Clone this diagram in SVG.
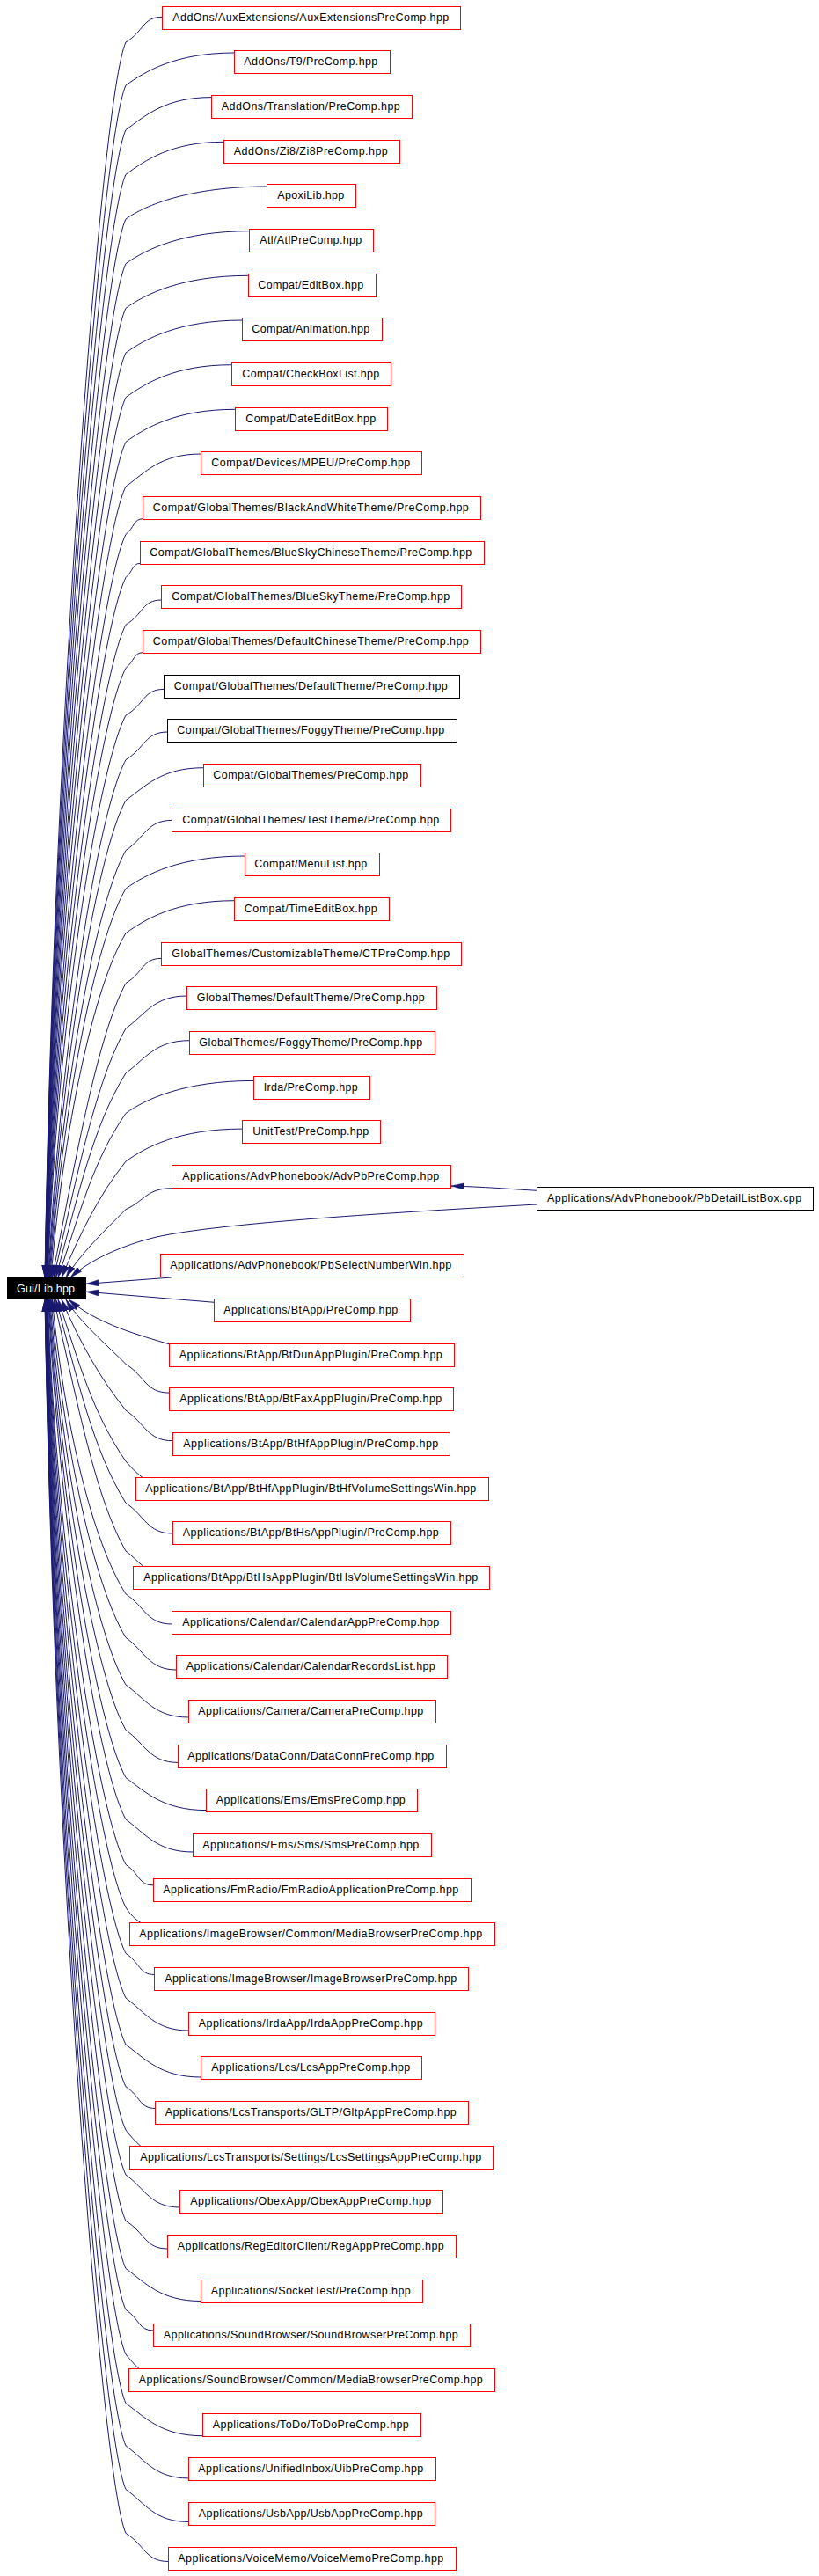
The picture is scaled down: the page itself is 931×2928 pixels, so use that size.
<svg xmlns="http://www.w3.org/2000/svg" width="931" height="2928" viewBox="0 0 931 2928">
<defs>
<style>
.n rect{fill:#fff;stroke:#f00;stroke-width:1}
.n.k rect{stroke:#000}
text{font-family:"Liberation Sans",Arial,Helvetica,sans-serif;font-size:12.5px;fill:#000;text-anchor:middle}
#edges path{fill:none;stroke:#191970;stroke-width:1;marker-end:url(#arr)}
</style>
<marker id="arr" viewBox="0 0 14 8" refX="14" refY="4" markerWidth="14" markerHeight="8" markerUnits="userSpaceOnUse" orient="auto"><path d="M0,0.5 L14,4 L0,7.5 Z" fill="#191970" stroke="#191970" stroke-width="0.5"/></marker>
</defs>
<rect width="931" height="2928" fill="#fff"/>
<g id="edges">
<path d="M184.5,19.3 C162,19.3 163.7,35.6 143,48 C115.3,108 61,820 51,1452"/>
<path d="M266.5,60 C199.7,60 165,81.1 143,97 C115.2,157 61.1,844.5 51.1,1452"/>
<path d="M240.5,110.6 C187.8,110.6 165,131.7 143,147.6 C115,207.6 61.2,867.3 51.2,1452"/>
<path d="M254.5,161.3 C194.2,161.3 165,182.4 143,198.3 C114.9,258.3 61.3,887.5 51.3,1452"/>
<path d="M303.5,212 C216.7,212 165,233.1 143,249 C114.7,309 61.5,910.5 51.5,1452"/>
<path d="M283.5,262.7 C207.5,262.7 165,283.8 143,299.7 C114.6,359.7 61.6,933.2 51.6,1452"/>
<path d="M282.5,313.3 C207.1,313.3 165,334.4 143,350.3 C114.4,410.3 61.8,956 51.8,1452"/>
<path d="M275.5,364 C203.9,364 165,385.1 143,401 C114.3,461 62,978.8 52,1452"/>
<path d="M263.5,414.7 C198.3,414.7 165,435.8 143,451.7 C114.1,511.7 62.1,1001.6 52.1,1452"/>
<path d="M267.5,465.3 C200.2,465.3 165,486.4 143,502.3 C113.6,562.3 62.4,1024.4 52.4,1452"/>
<path d="M228.5,516 C182.2,516 165,537.1 143,553 C113.3,613 62.6,1047.2 52.6,1452"/>
<path d="M162.5,589.7 C151.9,589.7 152.65,599.8 143,607.35 C113,667.35 62.9,1075.4 52.9,1452"/>
<path d="M159.5,640.3 C150.5,640.3 151.15,649.5 143,656.45 C112.6,716.45 63.2,1097.8 53.2,1452"/>
<path d="M183.5,682 C161.5,682 163.15,698 143,710.15 C112.2,770.15 63.5,1122.2 53.5,1452"/>
<path d="M162.5,741.7 C151.9,741.7 152.65,751.8 143,759.35 C111.8,819.35 63.9,1144.5 53.9,1452"/>
<path d="M186.5,783.4 C162.9,783.4 164.65,800.3 143,813.05 C111.2,873.05 64.3,1169.1 54.3,1452"/>
<path d="M190.5,832 C164.8,832 165,850 143,863.65 C110.6,923.65 68.8,1192 54.8,1452"/>
<path d="M231.5,872.7 C183.6,872.7 165,893.8 143,909.7 C109.9,969.7 69.4,1213.3 55.4,1452"/>
<path d="M195.5,932.4 C167.1,932.4 165,951.9 143,966.55 C109,1026.55 70.1,1239.2 56.1,1452"/>
<path d="M278.5,973 C205.2,973 165,994.1 143,1010 C108,1070 70.9,1259.4 56.9,1452"/>
<path d="M266.5,1023.7 C199.7,1023.7 165,1044.8 143,1060.7 C106.6,1120.7 72,1282.8 58,1452"/>
<path d="M183.5,1089.4 C161.5,1089.4 163.15,1105.4 143,1117.55 C111,1177.55 87.8,1308.9 59.3,1452"/>
<path d="M212.5,1132 C174.9,1132 165,1153.1 143,1169 C108.8,1229 88.5,1332.9 61.1,1452"/>
<path d="M215.5,1182.7 C176.3,1182.7 165,1203.8 143,1219.7 C105.9,1279.7 89.4,1356.6 63.5,1452"/>
<path d="M288.5,1228.4 C209.8,1228.4 165,1249.5 143,1265.4 C104.6,1321.2 91.3,1378.3 66,1452"/>
<path d="M275.5,1283.1 C203.9,1283.1 165,1304.2 143,1320.1 C111.5,1359.5 90.6,1403.4 70,1452"/>
<path d="M195.5,1350.7 C167.1,1350.7 165,1364.4 143,1374.7 C120,1397.7 89.7,1427 75,1452"/>
<path d="M610.5,1369 C450,1378 250,1390 178,1406 C140,1415 102,1432 80,1452"/>
<path d="M610.5,1353.3 C585,1352 560,1349.5 513,1348"/>
<path d="M195,1452 L98,1459.3"/>
<path d="M243.5,1480.3 L98,1468.3"/>
<path d="M192.5,1527.9 C160,1518 110,1505 78,1477"/>
<path d="M192.5,1583.1 C165.7,1583.1 165,1564.5 143,1550.45 C121.1,1528.55 88.9,1500.7 75,1477"/>
<path d="M196.5,1637.7 C167.5,1637.7 165,1617.95 143,1603.05 C112.8,1565.35 89.7,1523.5 70,1477"/>
<path d="M162,1679.5 C155,1674 149,1668 143,1661 C105.1,1606 90.1,1549.7 66,1477"/>
<path d="M196.5,1743 C167.5,1743 165,1723.25 143,1708.35 C105.9,1648.35 89.3,1572 63.5,1477"/>
<path d="M163,1780.5 C156,1775 150,1768 143,1763 C108.8,1703 88.8,1597.4 61.1,1477"/>
<path d="M195.5,1846 C167.1,1846 165,1826.5 143,1811.85 C105,1751.85 73.3,1620.3 59.3,1477"/>
<path d="M200.5,1898 C169.4,1898 165,1877.1 143,1861.35 C106.6,1801.35 72,1643.1 58,1477"/>
<path d="M214.5,1952 C175.8,1952 165,1930.9 143,1915 C108,1855 70.9,1667.9 56.9,1477"/>
<path d="M202.5,2003.4 C170.3,2003.4 165,1982.3 143,1966.4 C109,1906.4 70.1,1691.6 56.1,1477"/>
<path d="M234.5,2057.6 C185,2057.6 165,2036.5 143,2020.6 C109.9,1960.6 69.4,1716.3 55.4,1477"/>
<path d="M219.5,2105 C178.1,2105 165,2083.9 143,2068 C110.6,2008 68.8,1738.2 54.8,1477"/>
<path d="M174.5,2143 C157.4,2143 158.65,2129.5 143,2119.35 C111.2,2059.35 64.3,1761.4 54.3,1477"/>
<path d="M160,2185.5 C153,2181 148,2176 143,2168 C111.8,2108 63.9,1783.5 53.9,1477"/>
<path d="M175.5,2244.5 C157.9,2244.5 159.15,2230.7 143,2220.35 C112.2,2160.35 63.5,1807.5 53.5,1477"/>
<path d="M214.5,2308 C175.8,2308 165,2286.9 143,2271 C112.6,2211 63.2,1830.7 53.2,1477"/>
<path d="M228.5,2361 C182.2,2361 165,2339.9 143,2324 C113,2264 62.9,1854.6 52.9,1477"/>
<path d="M176.5,2396.5 C158.3,2396.5 159.65,2382.5 143,2371.85 C113.3,2311.85 62.6,1876.4 52.6,1477"/>
<path d="M160,2439.5 C153,2433 148,2428 143,2421 C113.6,2361 62.4,1898.7 52.4,1477"/>
<path d="M204.5,2509 C171.2,2509 165,2487.9 143,2472 C113.9,2412 62.1,1921.7 52.1,1477"/>
<path d="M190.5,2556 C164.8,2556 165,2538 143,2524.35 C114.1,2464.35 62,1945.5 52,1477"/>
<path d="M228.5,2615.5 C182.2,2615.5 165,2594.4 143,2578.5 C114.3,2518.5 61.8,1970 51.8,1477"/>
<path d="M174.5,2649 C157.4,2649 158.65,2635.5 143,2625.35 C114.6,2565.35 61.6,1991.1 51.6,1477"/>
<path d="M158,2692.5 C152,2687 148,2682 143,2676 C114.7,2616 61.5,2014 51.5,1477"/>
<path d="M230.5,2768.7 C183.2,2768.7 165,2747.6 143,2731.7 C114.9,2671.7 61.3,2039.2 51.3,1477"/>
<path d="M214.5,2816.9 C175.8,2816.9 165,2795.8 143,2779.9 C115,2719.9 61.2,2061 51.2,1477"/>
<path d="M214.5,2866.5 C175.8,2866.5 165,2845.4 143,2829.5 C115.2,2769.5 61.1,2083.5 51.1,1477"/>
<path d="M191.5,2911.5 C165.2,2911.5 165,2893.2 143,2879.35 C115.3,2819.35 61,2105.9 51,1477"/>
</g>
<g id="gui-lib"><rect x="8" y="1452" width="90" height="25" fill="#000"/><text x="52" y="1469" style="fill:#fff" textLength="66">Gui/Lib.hpp</text></g>
<g id="pbdetaillistbox" class="n k"><rect x="610.5" y="1349.5" width="314" height="26"/><text x="766.6" y="1366" textLength="289">Applications/AdvPhonebook/PbDetailListBox.cpp</text></g>
<g id="n00" class="n"><rect x="184.5" y="7.5" width="339" height="26"/><text x="353.3" y="24" textLength="314">AddOns/AuxExtensions/AuxExtensionsPreComp.hpp</text></g>
<g id="n01" class="n"><rect x="266.5" y="57.5" width="177" height="26"/><text x="353.3" y="74" textLength="152">AddOns/T9/PreComp.hpp</text></g>
<g id="n02" class="n"><rect x="240.5" y="108.5" width="228" height="26"/><text x="353.3" y="125" textLength="203">AddOns/Translation/PreComp.hpp</text></g>
<g id="n03" class="n"><rect x="254.5" y="159.5" width="200" height="26"/><text x="353.3" y="176" textLength="175">AddOns/Zi8/Zi8PreComp.hpp</text></g>
<g id="n04" class="n"><rect x="303.5" y="209.5" width="101" height="26"/><text x="353.3" y="226" textLength="76">ApoxiLib.hpp</text></g>
<g id="n05" class="n"><rect x="283.5" y="260.5" width="141" height="26"/><text x="353.3" y="277" textLength="116">Atl/AtlPreComp.hpp</text></g>
<g id="n06" class="n"><rect x="282.5" y="311.5" width="145" height="26"/><text x="353.3" y="328" textLength="120">Compat/EditBox.hpp</text></g>
<g id="n07" class="n"><rect x="275.5" y="361.5" width="159" height="26"/><text x="353.3" y="378" textLength="134">Compat/Animation.hpp</text></g>
<g id="n08" class="n"><rect x="263.5" y="412.5" width="181" height="26"/><text x="353.3" y="429" textLength="156">Compat/CheckBoxList.hpp</text></g>
<g id="n09" class="n"><rect x="267.5" y="463.5" width="173" height="26"/><text x="353.3" y="480" textLength="148">Compat/DateEditBox.hpp</text></g>
<g id="n10" class="n"><rect x="228.5" y="513.5" width="251" height="26"/><text x="353.3" y="530" textLength="226">Compat/Devices/MPEU/PreComp.hpp</text></g>
<g id="n11" class="n"><rect x="162.5" y="564.5" width="384" height="26"/><text x="353.3" y="581" textLength="359">Compat/GlobalThemes/BlackAndWhiteTheme/PreComp.hpp</text></g>
<g id="n12" class="n"><rect x="159.5" y="615.5" width="391" height="26"/><text x="353.3" y="632" textLength="366">Compat/GlobalThemes/BlueSkyChineseTheme/PreComp.hpp</text></g>
<g id="n13" class="n"><rect x="183.5" y="665.5" width="341" height="26"/><text x="353.3" y="682" textLength="316">Compat/GlobalThemes/BlueSkyTheme/PreComp.hpp</text></g>
<g id="n14" class="n"><rect x="162.5" y="716.5" width="384" height="26"/><text x="353.3" y="733" textLength="359">Compat/GlobalThemes/DefaultChineseTheme/PreComp.hpp</text></g>
<g id="n15" class="n k"><rect x="186.5" y="767.5" width="336" height="26"/><text x="353.3" y="784" textLength="311">Compat/GlobalThemes/DefaultTheme/PreComp.hpp</text></g>
<g id="n16" class="n k"><rect x="190.5" y="817.5" width="329" height="26"/><text x="353.3" y="834" textLength="304">Compat/GlobalThemes/FoggyTheme/PreComp.hpp</text></g>
<g id="n17" class="n"><rect x="231.5" y="868.5" width="247" height="26"/><text x="353.3" y="885" textLength="222">Compat/GlobalThemes/PreComp.hpp</text></g>
<g id="n18" class="n"><rect x="195.5" y="919.5" width="317" height="26"/><text x="353.3" y="936" textLength="292">Compat/GlobalThemes/TestTheme/PreComp.hpp</text></g>
<g id="n19" class="n"><rect x="278.5" y="969.5" width="153" height="26"/><text x="353.3" y="986" textLength="128">Compat/MenuList.hpp</text></g>
<g id="n20" class="n"><rect x="266.5" y="1020.5" width="176" height="26"/><text x="353.3" y="1037" textLength="151">Compat/TimeEditBox.hpp</text></g>
<g id="n21" class="n"><rect x="183.5" y="1071.5" width="341" height="26"/><text x="353.3" y="1088" textLength="316">GlobalThemes/CustomizableTheme/CTPreComp.hpp</text></g>
<g id="n22" class="n"><rect x="212.5" y="1121.5" width="284" height="26"/><text x="353.3" y="1138" textLength="259">GlobalThemes/DefaultTheme/PreComp.hpp</text></g>
<g id="n23" class="n"><rect x="215.5" y="1172.5" width="279" height="26"/><text x="353.3" y="1189" textLength="254">GlobalThemes/FoggyTheme/PreComp.hpp</text></g>
<g id="n24" class="n"><rect x="288.5" y="1223.5" width="132" height="26"/><text x="353.3" y="1240" textLength="107">Irda/PreComp.hpp</text></g>
<g id="n25" class="n"><rect x="275.5" y="1273.5" width="157" height="26"/><text x="353.3" y="1290" textLength="132">UnitTest/PreComp.hpp</text></g>
<g id="n26" class="n"><rect x="195.5" y="1324.5" width="317" height="26"/><text x="353.3" y="1341" textLength="292">Applications/AdvPhonebook/AdvPbPreComp.hpp</text></g>
<g id="n28" class="n"><rect x="182.5" y="1425.5" width="345" height="26"/><text x="353.3" y="1442" textLength="320">Applications/AdvPhonebook/PbSelectNumberWin.hpp</text></g>
<g id="n29" class="n"><rect x="243.5" y="1476.5" width="223" height="26"/><text x="353.3" y="1493" textLength="198">Applications/BtApp/PreComp.hpp</text></g>
<g id="n30" class="n"><rect x="192.5" y="1527.5" width="324" height="26"/><text x="353.3" y="1544" textLength="299">Applications/BtApp/BtDunAppPlugin/PreComp.hpp</text></g>
<g id="n31" class="n"><rect x="192.5" y="1577.5" width="323" height="26"/><text x="353.3" y="1594" textLength="298">Applications/BtApp/BtFaxAppPlugin/PreComp.hpp</text></g>
<g id="n32" class="n"><rect x="196.5" y="1628.5" width="315" height="26"/><text x="353.3" y="1645" textLength="290">Applications/BtApp/BtHfAppPlugin/PreComp.hpp</text></g>
<g id="n33" class="n"><rect x="154.5" y="1679.5" width="401" height="26"/><text x="353.3" y="1696" textLength="376">Applications/BtApp/BtHfAppPlugin/BtHfVolumeSettingsWin.hpp</text></g>
<g id="n34" class="n"><rect x="196.5" y="1729.5" width="316" height="26"/><text x="353.3" y="1746" textLength="291">Applications/BtApp/BtHsAppPlugin/PreComp.hpp</text></g>
<g id="n35" class="n"><rect x="151.5" y="1780.5" width="405" height="26"/><text x="353.3" y="1797" textLength="380">Applications/BtApp/BtHsAppPlugin/BtHsVolumeSettingsWin.hpp</text></g>
<g id="n36" class="n"><rect x="195.5" y="1831.5" width="317" height="26"/><text x="353.3" y="1848" textLength="292">Applications/Calendar/CalendarAppPreComp.hpp</text></g>
<g id="n37" class="n"><rect x="200.5" y="1881.5" width="308" height="26"/><text x="353.3" y="1898" textLength="283">Applications/Calendar/CalendarRecordsList.hpp</text></g>
<g id="n38" class="n"><rect x="214.5" y="1932.5" width="281" height="26"/><text x="353.3" y="1949" textLength="256">Applications/Camera/CameraPreComp.hpp</text></g>
<g id="n39" class="n"><rect x="202.5" y="1983.5" width="305" height="26"/><text x="353.3" y="2000" textLength="280">Applications/DataConn/DataConnPreComp.hpp</text></g>
<g id="n40" class="n"><rect x="234.5" y="2033.5" width="240" height="26"/><text x="353.3" y="2050" textLength="215">Applications/Ems/EmsPreComp.hpp</text></g>
<g id="n41" class="n"><rect x="219.5" y="2084.5" width="271" height="26"/><text x="353.3" y="2101" textLength="246">Applications/Ems/Sms/SmsPreComp.hpp</text></g>
<g id="n42" class="n"><rect x="174.5" y="2135.5" width="361" height="26"/><text x="353.3" y="2152" textLength="336">Applications/FmRadio/FmRadioApplicationPreComp.hpp</text></g>
<g id="n43" class="n"><rect x="147.5" y="2185.5" width="415" height="26"/><text x="353.3" y="2202" textLength="390">Applications/ImageBrowser/Common/MediaBrowserPreComp.hpp</text></g>
<g id="n44" class="n"><rect x="175.5" y="2236.5" width="357" height="26"/><text x="353.3" y="2253" textLength="332">Applications/ImageBrowser/ImageBrowserPreComp.hpp</text></g>
<g id="n45" class="n"><rect x="214.5" y="2287.5" width="280" height="26"/><text x="353.3" y="2304" textLength="255">Applications/IrdaApp/IrdaAppPreComp.hpp</text></g>
<g id="n46" class="n"><rect x="228.5" y="2337.5" width="251" height="26"/><text x="353.3" y="2354" textLength="226">Applications/Lcs/LcsAppPreComp.hpp</text></g>
<g id="n47" class="n"><rect x="176.5" y="2388.5" width="356" height="26"/><text x="353.3" y="2405" textLength="331">Applications/LcsTransports/GLTP/GltpAppPreComp.hpp</text></g>
<g id="n48" class="n"><rect x="147.5" y="2439.5" width="413" height="26"/><text x="353.3" y="2456" textLength="388">Applications/LcsTransports/Settings/LcsSettingsAppPreComp.hpp</text></g>
<g id="n49" class="n"><rect x="204.5" y="2489.5" width="299" height="26"/><text x="353.3" y="2506" textLength="274">Applications/ObexApp/ObexAppPreComp.hpp</text></g>
<g id="n50" class="n"><rect x="190.5" y="2540.5" width="328" height="26"/><text x="353.3" y="2557" textLength="303">Applications/RegEditorClient/RegAppPreComp.hpp</text></g>
<g id="n51" class="n"><rect x="228.5" y="2591.5" width="252" height="26"/><text x="353.3" y="2608" textLength="227">Applications/SocketTest/PreComp.hpp</text></g>
<g id="n52" class="n"><rect x="174.5" y="2641.5" width="360" height="26"/><text x="353.3" y="2658" textLength="335">Applications/SoundBrowser/SoundBrowserPreComp.hpp</text></g>
<g id="n53" class="n"><rect x="146.5" y="2692.5" width="416" height="26"/><text x="353.3" y="2709" textLength="391">Applications/SoundBrowser/Common/MediaBrowserPreComp.hpp</text></g>
<g id="n54" class="n"><rect x="230.5" y="2743.5" width="248" height="26"/><text x="353.3" y="2760" textLength="223">Applications/ToDo/ToDoPreComp.hpp</text></g>
<g id="n55" class="n"><rect x="214.5" y="2793.5" width="281" height="26"/><text x="353.3" y="2810" textLength="256">Applications/UnifiedInbox/UibPreComp.hpp</text></g>
<g id="n56" class="n"><rect x="214.5" y="2844.5" width="280" height="26"/><text x="353.3" y="2861" textLength="255">Applications/UsbApp/UsbAppPreComp.hpp</text></g>
<g id="n57" class="n"><rect x="191.5" y="2895.5" width="327" height="26"/><text x="353.3" y="2912" textLength="302">Applications/VoiceMemo/VoiceMemoPreComp.hpp</text></g>
</svg>
